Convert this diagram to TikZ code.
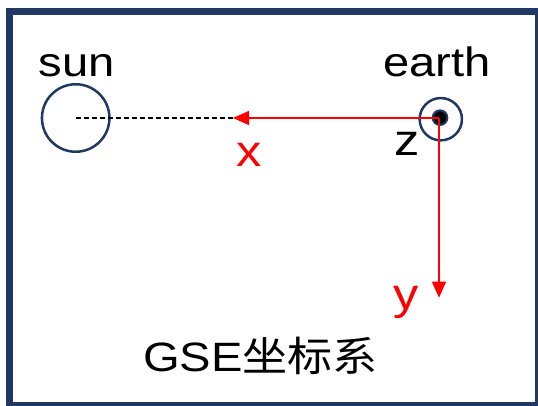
\documentclass[tikz,border=0pt]{standalone}
\usepackage{fontspec}
\setmainfont{Liberation Sans}[FakeStretch=1.15]
\newfontfamily\cjk{Noto Sans CJK SC}[FakeStretch=1.1]
\usetikzlibrary{arrows.meta,positioning,calc}
\definecolor{frame}{HTML}{1F3864}

\begin{document}
\begin{tikzpicture}[x=1pt, y=-1pt,
      body/.style={circle, draw=frame, line width=2.5pt, inner sep=0pt},
      bodytext/.style={font=\fontsize{41}{48}\selectfont, inner sep=0pt, anchor=base},
      axtext/.style={font=\fontsize{44}{52}\selectfont, inner sep=0pt, anchor=base},
      axis/.style={red, line width=1.4pt, -{Triangle[length=16pt, width=14pt]}}]
  \useasboundingbox (0,0) rectangle (538,405);
  \draw[frame, line width=7pt] (9.5,11.5) rectangle (538.5,405.5);

  % bodies
  \node[body, minimum size=67.5pt] (sun) at (75.7,118) {};
  \node[body, minimum size=42.3pt] (earth) at (440.8,119.2) {};
  \node[circle, fill=black, draw=frame, line width=2pt, minimum size=14.6pt,
        inner sep=0pt] (core) at (440,117.7) {};
  \coordinate (origin) at (439,118);
  \coordinate (xtip) at (233,118);
  \coordinate (ytip) at (439,297.7);

  \draw[black, line width=1.6pt, dash pattern=on 5pt off 3pt]
    (sun.center) -- (origin);
  \draw[axis] (origin) -- (xtip);
  \draw[axis] (origin) -- (ytip);

  % labels
  \node[bodytext] (sunname) at (76.7,76) {sun};
  \node[bodytext] (earthname) at (437,76.7) {earth};
  \node[axtext, red] (xname) at (248.7,166.7) {x};
  \node[axtext, red] (yname) at (406,309) {y};
  \node[axtext] (zname) at (407,155) {z};
  \node[bodytext] (title) at (260.5,371.7) {GSE{\cjk 坐标系}};
\end{tikzpicture}
\end{document}
